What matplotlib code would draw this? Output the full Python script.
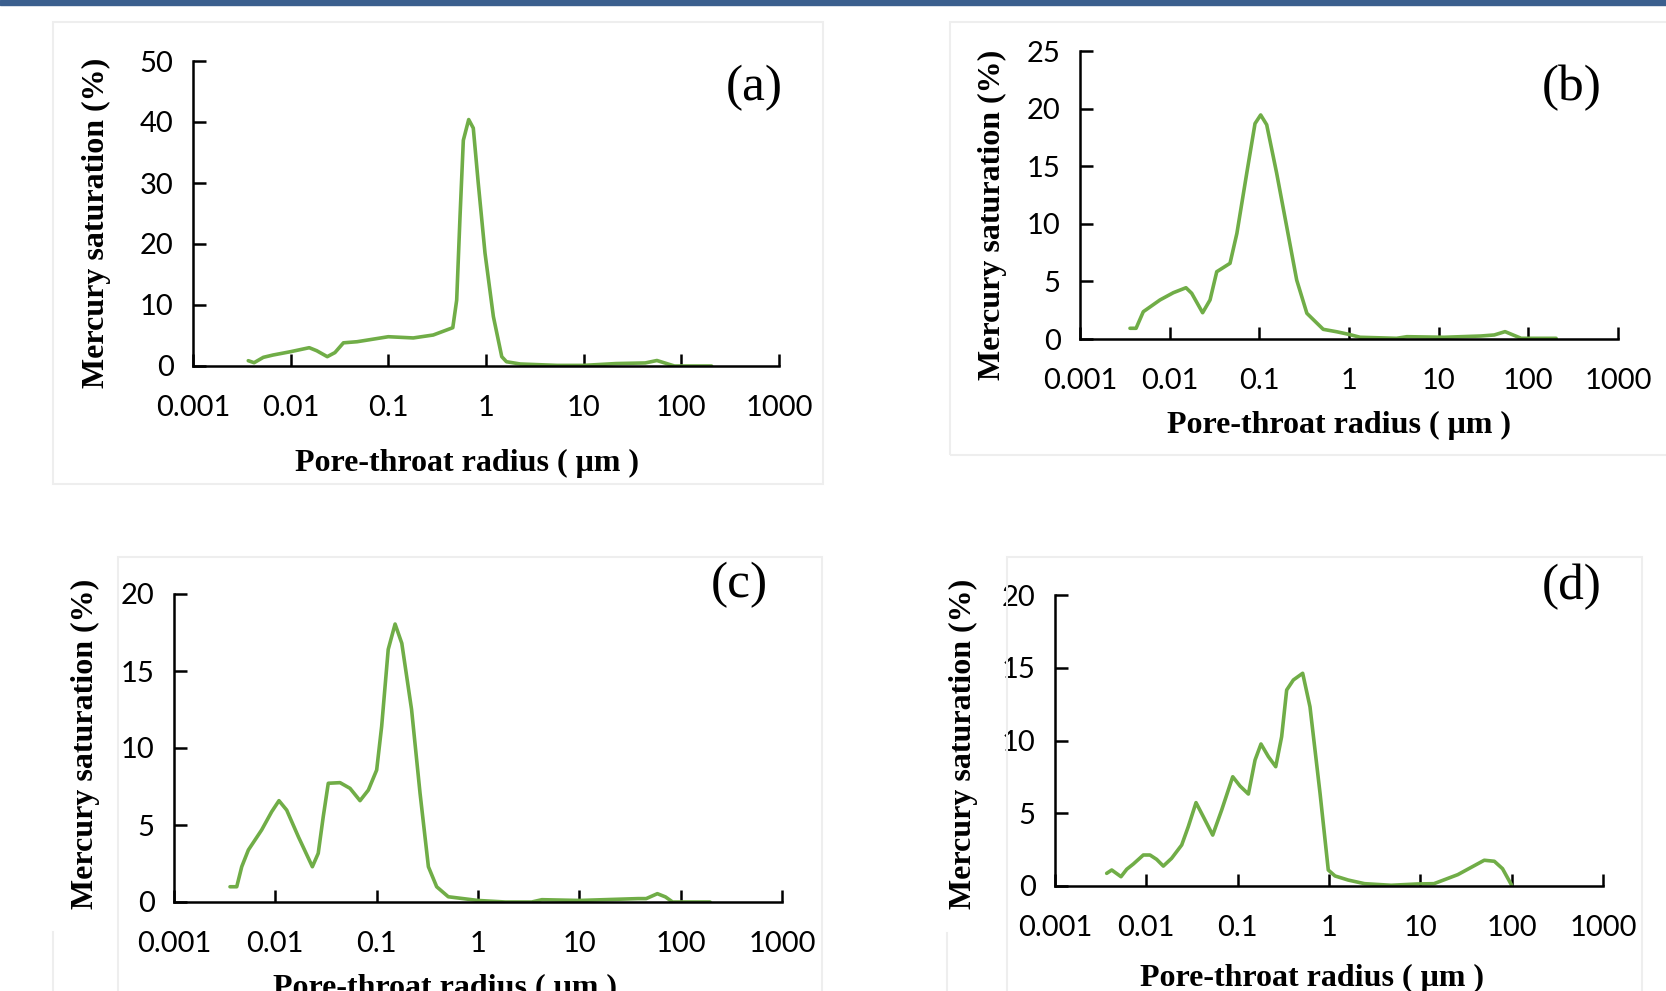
import numpy as np
import matplotlib.pyplot as plt
from matplotlib.patches import Rectangle

# pore-throat radius (um) and mercury saturation (%)
radius_a = [0.00368, 0.00422, 0.00525, 0.0066, 0.01, 0.0155, 0.0185, 0.0237, 0.0284, 0.0347,
            0.0479, 0.1, 0.18, 0.288, 0.457, 0.501, 0.542, 0.586, 0.665, 0.741,
            0.834, 0.977, 1.19, 1.45, 1.62, 2.24, 5.37, 10.0, 21.4, 42.7,
            56.2, 70.8, 85.1, 204]
sat_a = [0.87, 0.54, 1.42, 1.8, 2.35, 3.0, 2.5, 1.53, 2.2, 3.8,
         3.98, 4.8, 4.6, 5.08, 6.28, 10.8, 24.5, 37.0, 40.4, 39.0,
         29.9, 18.5, 8.1, 1.53, 0.7, 0.33, 0.1, 0.1, 0.4, 0.5,
         0.9, 0.4, 0.0, 0.0]

radius_b = [0.00361, 0.00422, 0.00508, 0.0078, 0.011, 0.0152, 0.0176, 0.0233, 0.0282, 0.0335,
            0.0471, 0.0562, 0.0724, 0.0895, 0.1035, 0.1208, 0.156, 0.202, 0.261, 0.339,
            0.516, 0.728, 1.0, 1.33, 3.39, 4.42, 11.5, 29.5, 41.7, 55.0,
            67.6, 83.2, 204]
sat_b = [0.93, 0.93, 2.37, 3.39, 4.02, 4.45, 3.97, 2.28, 3.39, 5.84,
         6.57, 9.17, 14.4, 18.7, 19.45, 18.6, 14.4, 9.75, 5.12, 2.23,
         0.84, 0.63, 0.4, 0.15, 0.06, 0.2, 0.15, 0.26, 0.35, 0.64,
         0.35, 0.06, 0.06]

radius_c = [0.00357, 0.00416, 0.00466, 0.00542, 0.00733, 0.0092, 0.01086, 0.01294, 0.01687, 0.0232,
            0.0265, 0.0297, 0.0333, 0.0435, 0.0546, 0.0685, 0.0828, 0.1, 0.112, 0.130,
            0.152, 0.177, 0.221, 0.268, 0.324, 0.391, 0.509, 1.0, 1.86, 3.39,
            4.27, 10.0, 38.0, 45.7, 58.9, 70.8, 83.2, 195]
sat_c = [0.99, 0.99, 2.29, 3.38, 4.68, 5.86, 6.58, 5.97, 4.24, 2.29,
         3.16, 5.54, 7.71, 7.75, 7.38, 6.58, 7.27, 8.57, 11.4, 16.4,
         18.05, 16.8, 12.5, 7.06, 2.29, 0.99, 0.34, 0.1, 0.0, 0.0,
         0.15, 0.1, 0.22, 0.22, 0.54, 0.33, 0.0, 0.0]

radius_d = [0.00368, 0.00418, 0.00528, 0.0061, 0.0072, 0.00927, 0.01096, 0.01297, 0.01535, 0.0189,
            0.0244, 0.0288, 0.035, 0.0421, 0.0533, 0.0668, 0.0883, 0.1062, 0.131, 0.155,
            0.180, 0.217, 0.261, 0.303, 0.344, 0.407, 0.515, 0.619, 0.798, 0.982,
            1.164, 1.62, 2.45, 4.79, 9.33, 14.1, 25.7, 50.1, 64.6, 79.4,
            100]
sat_d = [0.87, 1.1, 0.64, 1.15, 1.51, 2.13, 2.13, 1.83, 1.37, 1.9,
         2.82, 4.08, 5.73, 4.76, 3.5, 5.22, 7.51, 6.87, 6.32, 8.66,
         9.76, 8.89, 8.2, 10.26, 13.47, 14.16, 14.62, 12.32, 6.37, 1.1,
         0.69, 0.41, 0.16, 0.05, 0.14, 0.16, 0.78, 1.77, 1.7, 1.19,
         0.05]

x_ticks = [0.001, 0.01, 0.1, 1, 10, 100, 1000]
x_ticklabels = ['0.001', '0.01', '0.1', '1', '10', '100', '1000']
panel_labels = ['(a)', '(b)', '(c)', '(d)']
y_max = [50, 25, 20, 20]
y_step = [10, 5, 5, 5]

W, H = 1666, 991
fig = plt.figure(figsize=(W / 100, H / 100), dpi=100)


def fx(x):
    return x / W


def fy(y):
    return 1 - y / H


# faint panel frames
for (x0, y0, x1, y1) in [(53, 22, 823, 484), (950, 22, 1670, 455),
                         (118, 557, 822, 1000), (1007, 557, 1642, 1000)]:
    fig.patches.append(Rectangle((fx(x0), fy(y1)), fx(x1 - x0), (y1 - y0) / H,
                                 transform=fig.transFigure, fill=False,
                                 edgecolor='#eeeeee', linewidth=1.5))
fig.lines.append(plt.Line2D([fx(53), fx(53)], [fy(932), 0], transform=fig.transFigure,
                            color='#eeeeee', linewidth=1.5))
fig.lines.append(plt.Line2D([fx(947), fx(947)], [fy(933), 0], transform=fig.transFigure,
                            color='#eeeeee', linewidth=1.5))

# blue bar at the top
fig.patches.append(Rectangle((0, fy(5)), 1, 5 / H, transform=fig.transFigure,
                             color='#3b5f8e'))

# axes boxes in pixels: left, right, y of zero, y of max
boxes = [(193, 779, 366, 61), (1080, 1618, 339, 51),
         (174, 782, 902, 594), (1055, 1603, 886, 595)]
tag_pos = [(754, 88), (1572, 88), (739, 585), (1572, 587)]
ylab_pos = [(96, 223), (992, 215), (85, 744), (963, 744)]
xlab_pos = [(467, 463), (1339, 425), (445, 988), (1312, 978)]
data = [(radius_a, sat_a), (radius_b, sat_b), (radius_c, sat_c), (radius_d, sat_d)]

for i, (l, r, y0, y1) in enumerate(boxes):
    ax = fig.add_axes([fx(l), fy(y0), fx(r - l), (y0 - y1) / H])
    rad, sat = data[i]
    ax.plot(rad, sat, color='#70ad47', linewidth=2.6, solid_joinstyle='round',
            solid_capstyle='round')
    ax.set_xscale('log')
    ax.set_xlim(0.001, 1000)
    ax.set_ylim(0, y_max[i])
    ax.set_xticks(x_ticks)
    ax.set_xticklabels(x_ticklabels)
    ax.minorticks_off()
    ax.set_yticks(np.arange(0, y_max[i] + 1, y_step[i]))
    ax.patch.set_alpha(0)
    for s in ['top', 'right']:
        ax.spines[s].set_visible(False)
    for s in ['left', 'bottom']:
        ax.spines[s].set_linewidth(1.8)
    ax.tick_params(axis='x', direction='in', length=9, width=1.8, pad=21,
                   labelsize=21)
    ax.tick_params(axis='y', direction='in', length=9, width=1.8, pad=14,
                   labelsize=21)
    for t in ax.get_xticklabels() + ax.get_yticklabels():
        t.set_family('Lato')

    fig.text(fx(tag_pos[i][0]), fy(tag_pos[i][1]), panel_labels[i], ha='center',
             va='center', fontsize=37, family='Liberation Serif')
    fig.text(fx(ylab_pos[i][0]), fy(ylab_pos[i][1]), 'Mercury saturation (%)',
             rotation=90, ha='center', va='center', fontsize=23,
             family='Liberation Serif', fontweight='bold')
    fig.text(fx(xlab_pos[i][0]), fy(xlab_pos[i][1]), 'Pore-throat radius ( μm )',
             ha='center', va='center', fontsize=23,
             family='Liberation Serif', fontweight='bold')

fig.savefig('out.png', dpi=100)
